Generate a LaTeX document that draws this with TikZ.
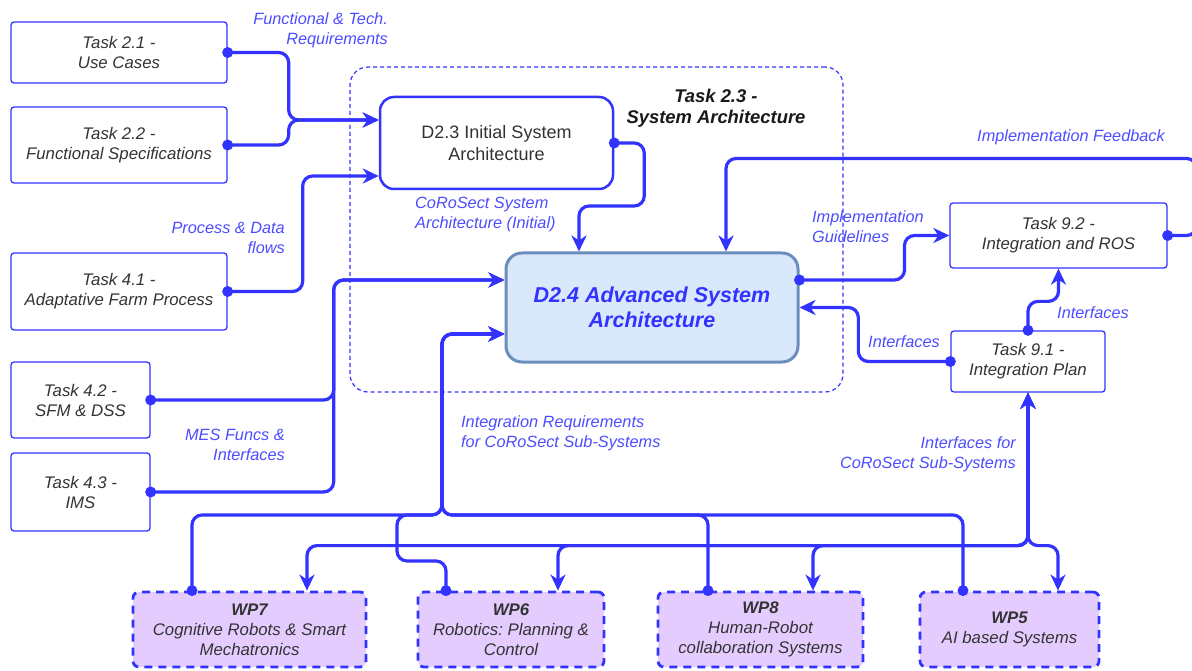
\documentclass[tikz,border=0pt]{standalone}
\usepackage{fontspec}
\setmainfont{Liberation Sans}
\frenchspacing
\usetikzlibrary{arrows.meta,calc}
\definecolor{lb}{HTML}{3333FF}
\definecolor{lbl}{HTML}{4D4DFF}
\definecolor{tg}{HTML}{333333}
\definecolor{dfill}{HTML}{DAE8FC}
\definecolor{ddraw}{HTML}{6C8EBF}
\definecolor{wpf}{HTML}{E5CCFF}
\begin{document}
\begin{tikzpicture}[x=1pt,y=-1pt,
 taskbox/.style={draw=lb, line width=1.3pt, rounded corners=3pt, fill=white, align=center, inner sep=0pt, font=\fontsize{16.8}{20}\selectfont\itshape, text=tg},
 wpbox/.style={draw=lb, line width=2.8pt, dash pattern=on 8pt off 6pt, rounded corners=6pt, fill=wpf, align=center, inner sep=0pt, font=\fontsize{16.8}{20}\selectfont\itshape, text=tg, minimum height=75pt},
 lab/.style={text=lbl, font=\fontsize{16.3}{20}\selectfont\itshape, inner sep=0pt},
 conn/.style={draw=lb, line width=3.2pt, rounded corners=10pt},
 arr/.style={-{Stealth[length=16pt,width=15pt,inset=5pt]}},
 biarr/.style={{Stealth[length=16pt,width=15pt,inset=5pt]}-{Stealth[length=16pt,width=15pt,inset=5pt]}}
]
\useasboundingbox (0,0) rectangle (1192,671);
\fill[white] (0,0) rectangle (1192,671);

% container
\node[draw=lb, line width=1.2pt, dash pattern=on 4pt off 3pt, rounded corners=18pt, minimum width=493pt, minimum height=325pt, inner sep=0pt] (cont) at (596.5,229.5) {};
\node[align=center, inner sep=0pt, font=\fontsize{18.4}{21}\selectfont\bfseries\itshape, text=black!90] (t23) at (716,108.5) {Task 2.3 -\\System Architecture};

% task boxes
\node[taskbox, minimum width=216pt, minimum height=61pt] (t21) at (119,52.5) {Task 2.1 -\\Use Cases};
\node[taskbox, minimum width=216pt, minimum height=76pt] (t22) at (119,145) {Task 2.2 -\\Functional Specifications};
\node[taskbox, minimum width=216pt, minimum height=77pt] (t41) at (119,291.5) {Task 4.1 -\\Adaptative Farm Process};
\node[taskbox, minimum width=139pt, minimum height=76pt] (t42) at (80.5,400) {Task 4.2 -\\SFM \& DSS};
\node[taskbox, minimum width=139pt, minimum height=78pt] (t43) at (80.5,492) {Task 4.3 -\\IMS};
\node[taskbox, minimum width=217pt, minimum height=65pt] (t92) at (1058.5,235.5) {Task 9.2 -\\Integration and ROS};
\node[taskbox, minimum width=154pt, minimum height=61pt] (t91) at (1028,361.5) {Task 9.1 -\\Integration Plan};

% deliverables
\node[draw=lb, line width=2.5pt, rounded corners=14pt, fill=white, minimum width=233pt, minimum height=92pt, align=center, inner sep=0pt, font=\fontsize{18}{22}\selectfont, text=tg] (d23) at (496.5,143) {D2.3 Initial System\\Architecture};
\node[draw=ddraw, fill=dfill, line width=3pt, rounded corners=16pt, minimum width=292pt, minimum height=109pt, align=center, inner sep=0pt, font=\fontsize{21.5}{25}\selectfont\bfseries\itshape, text=lb] (d24) at (652,307.5) {D2.4 Advanced System\\Architecture};

% work packages
\node[wpbox, minimum width=233pt] (wp7) at (249.5,629.5) {\textbf{WP7}\\Cognitive Robots \& Smart\\Mechatronics};
\node[wpbox, minimum width=186pt] (wp6) at (511,629.5) {\textbf{WP6}\\Robotics: Planning \&\\Control};
\node[wpbox, minimum width=205pt] (wp8) at (760.5,629.5) {\textbf{WP8}\\Human-Robot\\collaboration Systems};
\node[wpbox, minimum width=179pt] (wp5) at (1009.5,629.5) {\textbf{WP5}\\AI based Systems};

% coordinates
\coordinate (d23in1) at ($(d23.west)+(0,-23)$);
\coordinate (d23in2) at ($(d23.west)+(0,33)$);
\coordinate (d24top1) at ($(d24.north)+(-73,0)$);
\coordinate (d24top2) at ($(d24.north)+(74,0)$);
\coordinate (d24in1) at ($(d24.west)+(0,-27.5)$);
\coordinate (d24in2) at ($(d24.west)+(0,26.5)$);
\coordinate (d24out) at ($(d24.east)+(0,-27.5)$);
\coordinate (wp7src) at ($(wp7.north)+(-57.5,0)$);
\coordinate (wp7tgt) at ($(wp7.north)+(57.5,0)$);
\coordinate (wp6src) at ($(wp6.north)+(-65,0)$);
\coordinate (wp6tgt) at ($(wp6.north)+(47,0)$);
\coordinate (wp8src) at ($(wp8.north)+(-52.5,0)$);
\coordinate (wp8tgt) at ($(wp8.north)+(52.5,0)$);
\coordinate (wp5src) at ($(wp5.north)+(-46.5,0)$);
\coordinate (wp5tgt) at ($(wp5.north)+(48.5,0)$);
\coordinate (busj) at (442,515);

% connectors
\draw[conn,arr] (t21.east) -- ++(61,0) |- (d23in1);
\draw[conn,arr] (t22.east) -- ++(61,0) |- (d23in1);
\draw[conn,arr] (t41.east) -- ++(75,0) |- (d23in2);
\draw[conn,arr] (d23.east) -- ++(30,0) -- ++(0,63) -| (d24top1);
\draw[conn,arr] (t42.east) -- ++(183,0) |- (d24in1);
\draw[conn,arr] (t43.east) -- ++(183,0) |- (d24in1);
\draw[conn,arr] (wp7src) |- (busj) |- (d24in2);
\draw[conn,arr] (wp6src) |- (397,561) |- (busj) |- (d24in2);
\draw[conn,arr] (wp8src) |- (busj) |- (d24in2);
\draw[conn,arr] (wp5src) |- (busj) |- (d24in2);
\draw[conn,arr] (d24out) -- ++(105,0) |- (t92.west);
\draw[conn,arr] (t92.east) -- ++(29,0) |- ($(d24top2)+(0,-93)$) -- (d24top2);
\draw[conn,arr] (t91.west) -- ++(-92,0) |- (d24.east);
\draw[conn,arr] (t91.north) -- ++(0,-29) -| (t92.south);
\draw[conn,biarr] (t91.south) |- ($(wp7tgt)+(0,-45)$) -- (wp7tgt);
\draw[conn,biarr] (t91.south) |- ($(wp6tgt)+(0,-45)$) -- (wp6tgt);
\draw[conn,biarr] (t91.south) |- ($(wp8tgt)+(0,-45)$) -- (wp8tgt);
\draw[conn,biarr] (t91.south) |- ($(wp5tgt)+(0,-45)$) -- (wp5tgt);

% dots
\foreach \p in {t21.east,t22.east,t41.east,d23.east,t42.east,t43.east,d24out,t92.east,t91.west,t91.north,wp7src,wp6src,wp8src,wp5src}
  \fill[lb] (\p) circle (5.5pt);

% labels
\node[lab, align=right, anchor=east] (l1) at (388,30) {Functional \& Tech.\\Requirements};
\node[lab, align=right, anchor=east] (l2) at (285,238) {Process \& Data\\flows};
\node[lab, align=left, anchor=west] (l3) at (415,214.5) {CoRoSect System\\Architecture (Initial)};
\node[lab] (l4) at (1071,137) {Implementation Feedback};
\node[lab, align=left, anchor=west] (l5) at (812,226.5) {Implementation\\Guidelines};
\node[lab] (l6) at (904,342) {Interfaces};
\node[lab] (l7) at (1093,313) {Interfaces};
\node[lab, align=right, anchor=east] (l8) at (285,445) {MES Funcs \&\\Interfaces};
\node[lab, align=left, anchor=west] (l9) at (461,433.5) {Integration Requirements\\for CoRoSect Sub-Systems};
\node[lab, align=right, anchor=east] (l10) at (1016,454) {Interfaces for\\CoRoSect Sub-Systems};
\end{tikzpicture}
\end{document}
